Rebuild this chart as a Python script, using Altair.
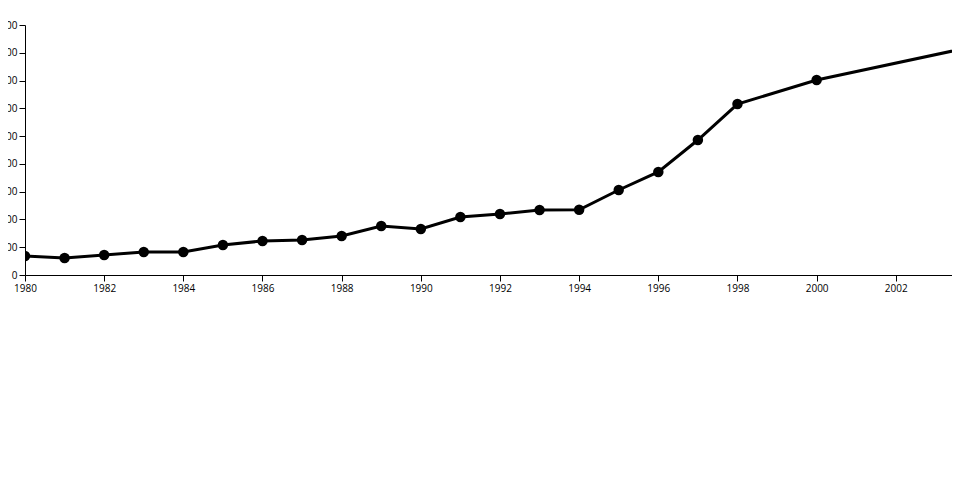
import altair as alt
import pandas as pd

years = [1980, 1981, 1982, 1983, 1984, 1985, 1986, 1987, 1988, 1989,
         1990, 1991, 1992, 1993, 1994, 1995, 1996, 1997, 1998, 2000, 2005]
values = [137, 122, 144, 166, 166, 216, 245, 252, 281, 353,
          331, 418, 439, 468, 470, 612, 742, 972, 1231, 1404, 1708]
x_ticks = list(range(1980, 2003, 2))
y_ticks = list(range(0, 1801, 200))

df = pd.DataFrame({"year": years, "value": values})

x = alt.X("year:Q", scale=alt.Scale(domain=[1980, 2003.42], nice=False, zero=False),
          axis=alt.Axis(values=x_ticks, format="d", title=None, grid=False,
                        tickSize=6, labelPadding=2, domainColor="black",
                        tickColor="black", labelColor="black", labelFont="Open Sans",
                        labelFontSize=10, labelFlush=False))
y = alt.Y("value:Q", scale=alt.Scale(domain=[0, 1800], nice=False),
          axis=alt.Axis(values=y_ticks, title=None, grid=False, tickSize=6,
                        labelPadding=2, domainColor="black", tickColor="black",
                        labelColor="black", labelFont="Open Sans", labelFontSize=10))

base = alt.Chart(df).encode(x=x, y=y)
line = base.mark_line(color="black", strokeWidth=3, clip=True)
points = base.mark_point(filled=True, color="black", size=110, opacity=1, clip=True)

chart = (line + points).properties(
    width=927, height=250,
    autosize=alt.AutoSizeParams(type="none"),
    padding={"left": 17, "top": 17, "right": 0, "bottom": 30},
).configure_view(stroke=None)

chart.save("out.html", embed_options={"renderer": "svg", "actions": False})
